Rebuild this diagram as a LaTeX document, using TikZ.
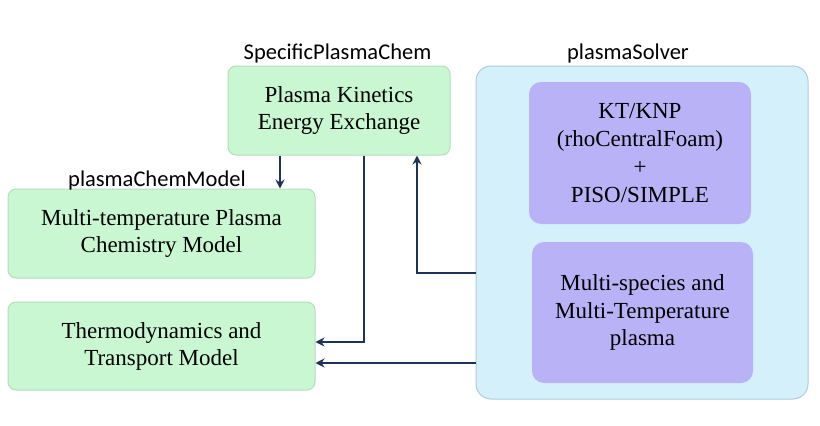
\documentclass[tikz,border=0pt]{standalone}
\usepackage{fontspec}
\setmainfont{Liberation Serif}
\newfontfamily\labfont{Carlito}
\usetikzlibrary{arrows.meta,calc}
\definecolor{gfill}{HTML}{C9F7D1}
\definecolor{gline}{HTML}{B5DDBD}
\definecolor{bfill}{HTML}{D4F0FB}
\definecolor{bline}{HTML}{B0CCDA}
\definecolor{pfill}{HTML}{BAB2F7}
\definecolor{navy}{HTML}{1F3356}
\tikzset{
  gbox/.style={draw=gline, line width=1pt, fill=gfill, rounded corners=8pt, align=center, inner sep=0pt,
    font=\fontsize{23}{27}\selectfont},
  sbox/.style={draw=bline, line width=1pt, fill=bfill, rounded corners=15pt, inner sep=0pt},
  pbox/.style={fill=pfill, rounded corners=12pt, align=center, inner sep=0pt,
    font=\fontsize{23}{27.7}\selectfont},
  lab/.style={font=\labfont\fontsize{22.5}{26}\selectfont, inner sep=0pt},
  arr/.style={draw=navy, line width=2.7pt, -{Stealth[length=9pt,width=9pt]}}
}
\begin{document}
\begin{tikzpicture}[x=1pt,y=-1pt]
\useasboundingbox[fill=white] (0,0) rectangle (820,426);
\node[gbox, minimum width=222pt, minimum height=89pt] (spc) at (339,110.5) {Plasma Kinetics\\Energy Exchange};
\node[gbox, minimum width=307pt, minimum height=89pt] (pcm) at (161.5,233.5) {Multi-temperature Plasma\\Chemistry Model};
\node[gbox, minimum width=307pt, minimum height=88pt] (thm) at (161.5,346) {Thermodynamics and\\Transport Model};
\node[sbox, minimum width=332pt, minimum height=333pt] (sol) at (642,232.5) {};
\node[pbox, minimum width=222pt, minimum height=142pt] (kt) at (640,153) {KT/KNP\\(rhoCentralFoam)\\+\\PISO/SIMPLE};
\node[pbox, minimum width=221pt, minimum height=141pt] (ms) at (642.5,312.5) {Multi-species and\\Multi-Temperature\\plasma};
\node[lab] (lspc) at (337.5,53) {SpecificPlasmaChem};
\node[lab] (lpcm) at (157,180) {plasmaChemModel};
\node[lab] (lsol) at (628,53) {plasmaSolver};
\coordinate (c1) at (280,0);
\coordinate (c2) at (364,0);
\coordinate (c3) at (0,342);
\coordinate (c4) at (0,363);
\coordinate (c5) at (0,273);
\coordinate (c6) at (417,0);
\draw[arr] (c1 |- spc.south) -- (c1 |- pcm.north);
\draw[arr] (c2 |- spc.south) -- (c2 |- c3) -- (thm.east |- c3);
\draw[arr] (sol.west |- c5) -- (c6 |- c5) -- (c6 |- spc.south);
\draw[arr] (sol.west |- c4) -- (thm.east |- c4);
\end{tikzpicture}
\end{document}
